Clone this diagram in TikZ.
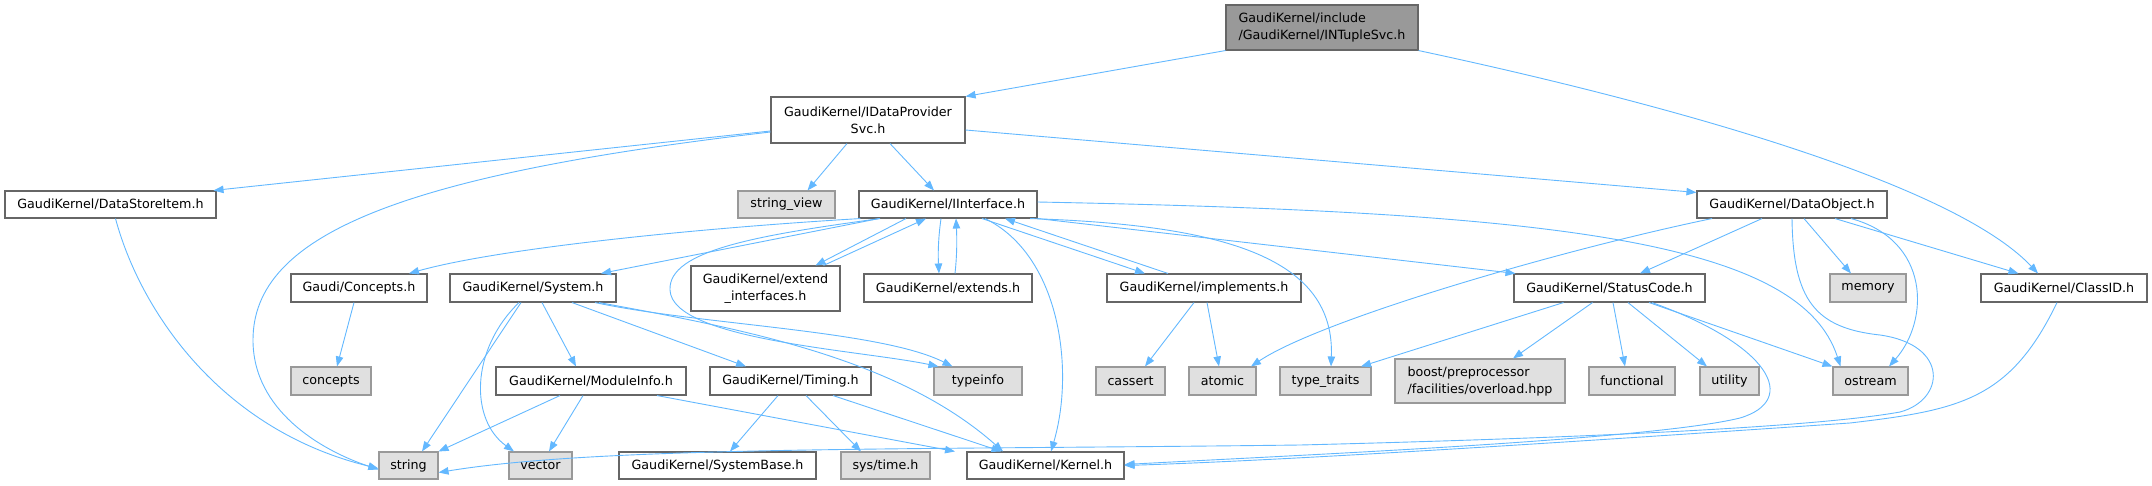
\documentclass[tikz,border=0pt]{standalone}
\usepackage{fontspec}
\setmainfont{DejaVu Sans}
\usetikzlibrary{arrows.meta}
\definecolor{edgec}{HTML}{63B8FF}
\definecolor{nodeborder}{HTML}{666666}
\definecolor{extborder}{HTML}{999999}
\definecolor{extfill}{HTML}{E0E0E0}
\definecolor{rootfill}{HTML}{999999}
\begin{document}
\begin{tikzpicture}[x=1pt,y=-1pt,
  font=\fontsize{12.7}{17}\selectfont,
  box/.style={draw=nodeborder, fill=white, line width=1.1pt, inner sep=0pt, minimum height=27pt},
  extbox/.style={box, draw=extborder, fill=extfill},
  rootbox/.style={box, fill=rootfill},
  dep/.style={draw=edgec, line width=0.9pt, -{Triangle[length=10pt,width=7.5pt]}}]
\useasboundingbox (0,0) rectangle (2152,485);

% ---- nodes
\node[rootbox, minimum width=192pt, minimum height=45pt, align=left] (root) at (1322,27.5) {GaudiKernel/include\\/GaudiKernel/INTupleSvc.h};
\node[box, minimum width=194pt, minimum height=46pt, align=center] (idp) at (868,120) {GaudiKernel/IDataProvider\\Svc.h};
\node[box, minimum width=211pt] (dsi) at (110.5,204.5) {GaudiKernel/DataStoreItem.h};
\node[extbox, minimum width=97pt] (sv) at (786.5,204.5) {string\_view};
\node[box, minimum width=178pt] (ii) at (948,204.5) {GaudiKernel/IInterface.h};
\node[box, minimum width=190pt] (dobj) at (1792,204.5) {GaudiKernel/DataObject.h};

\node[box, minimum width=136pt, minimum height=28pt] (conc) at (359,288) {Gaudi/Concepts.h};
\node[box, minimum width=166pt, minimum height=28pt] (sys) at (533,288) {GaudiKernel/System.h};
\node[box, minimum width=149pt, minimum height=45pt, align=center] (extif) at (765.5,288.5) {GaudiKernel/extend\\\_interfaces.h};
\node[box, minimum width=168pt, minimum height=28pt] (ext) at (948,288) {GaudiKernel/extends.h};
\node[box, minimum width=194pt, minimum height=28pt] (impl) at (1204,288) {GaudiKernel/implements.h};
\node[box, minimum width=191pt, minimum height=28pt] (sc) at (1609.5,288) {GaudiKernel/StatusCode.h};
\node[extbox, minimum width=76pt, minimum height=28pt] (mem) at (1868,288) {memory};
\node[box, minimum width=166pt, minimum height=28pt] (cid) at (2064,288) {GaudiKernel/ClassID.h};

\node[extbox, minimum width=80pt, minimum height=28pt] (concepts) at (331,381) {concepts};
\node[box, minimum width=190pt, minimum height=28pt] (modinfo) at (591,381) {GaudiKernel/ModuleInfo.h};
\node[box, minimum width=161pt, minimum height=28pt] (timing) at (790.5,381) {GaudiKernel/Timing.h};
\node[extbox, minimum width=88pt, minimum height=28pt] (typeinfo) at (978,381) {typeinfo};
\node[extbox, minimum width=69pt, minimum height=28pt] (cassert) at (1130.5,381) {cassert};
\node[extbox, minimum width=67pt, minimum height=28pt] (atomic) at (1222.5,381) {atomic};
\node[extbox, minimum width=91pt, minimum height=28pt] (tt) at (1325.5,381) {type\_traits};
\node[extbox, minimum width=170pt, minimum height=44pt, align=left] (boost) at (1480,381) {boost/preprocessor\\/facilities/overload.hpp};
\node[extbox, minimum width=86pt, minimum height=28pt] (functional) at (1632,381) {functional};
\node[extbox, minimum width=59pt, minimum height=28pt] (utility) at (1729.5,381) {utility};
\node[extbox, minimum width=75pt, minimum height=28pt] (ostream) at (1870.5,381) {ostream};

\node[extbox, minimum width=59pt] (string) at (408.5,465.5) {string};
\node[extbox, minimum width=63pt] (vector) at (540.5,465.5) {vector};
\node[box, minimum width=197pt] (sysbase) at (717.5,465.5) {GaudiKernel/SystemBase.h};
\node[extbox, minimum width=89pt] (systime) at (885.5,465.5) {sys/time.h};
\node[box, minimum width=157pt] (kernel) at (1045.5,465.5) {GaudiKernel/Kernel.h};

% ---- connectors
\draw[dep] (root.south west) -- (idp.north east);
\draw[dep] (root.south east) .. controls (1650,100) and (1950,180) .. ([xshift=-26pt]cid.north);

\draw[dep] ([yshift=-11pt]idp.west) -- ([xshift=-3pt]dsi.north east);
\draw[dep] ([yshift=-12pt]idp.west) .. controls (400,175) and (253,235) .. (253,340)
   .. controls (253,410) and (320,450) .. ([yshift=-4pt]string.west);
\draw[dep] ([xshift=5pt]dsi.south) .. controls (140,310) and (220,430) .. ([yshift=-3pt]string.west);
\draw[dep] ([xshift=-21pt]idp.south) -- ([xshift=21pt]sv.north);
\draw[dep] ([xshift=22pt]idp.south) -- ([xshift=-14pt]ii.north);
\draw[dep] ([yshift=-10pt]idp.east) -- ([yshift=-2pt]dobj.north west);

% IInterface
\draw[dep] ([xshift=2pt]ii.south west) .. controls (700,228) and (500,248) .. ([xshift=50pt]conc.north);
\draw[dep] ([xshift=-69pt]ii.south) -- ([xshift=68pt]sys.north);
\draw[dep] ([xshift=-42pt]ii.south) -- ([xshift=50pt]extif.north);
\draw[dep] ([xshift=58pt]extif.north) -- ([xshift=-22pt]ii.south);
\draw[dep] ([xshift=-7pt]ii.south) .. controls (938,240) and (938,255) .. ([xshift=-9pt]ext.north);
\draw[dep] ([xshift=7pt]ext.north) .. controls (957,255) and (957,240) .. ([xshift=8pt]ii.south);
\draw[dep] ([xshift=34pt]ii.south) -- ([xshift=-59pt]impl.north);
\draw[dep] ([xshift=-36pt]impl.north) -- ([xshift=57pt]ii.south);
\draw[dep] ([xshift=37pt]ii.south) .. controls (1060,255) and (1075,370) .. ([xshift=5.5pt]kernel.north);
\draw[dep] ([xshift=-68pt]ii.south) .. controls (760,235) and (668,250) .. (670,290)
   .. controls (672,340) and (860,350) .. ([xshift=5pt]typeinfo.north west);
\draw[dep] ([xshift=82pt]ii.south) .. controls (1230,225) and (1335,260) .. ([xshift=5.5pt]tt.north);
\draw[dep] (ii.south east) -- ([xshift=2pt]sc.north west);
\draw[dep] ([yshift=2.5pt]ii.east) .. controls (1550,212) and (1800,240) .. ([xshift=8pt]ostream.north west);

% System
\draw[dep] ([xshift=62pt]sys.south) .. controls (700,325) and (880,330) .. ([xshift=19pt]typeinfo.north west);
\draw[dep] ([xshift=66pt]sys.south) .. controls (750,330) and (900,360) .. ([xshift=-42.5pt]kernel.north);
\draw[dep] ([xshift=39pt]sys.south) -- ([xshift=-44.5pt]timing.north);
\draw[dep] ([xshift=9pt]sys.south) -- ([xshift=-15pt]modinfo.north);
\draw[dep] ([xshift=-12pt]sys.south) -- ([xshift=13.5pt]string.north);
\draw[dep] ([xshift=-14pt]sys.south) .. controls (470,350) and (470,420) .. ([xshift=-26.5pt]vector.north);

\draw[dep] ([xshift=-5pt]conc.south) -- ([xshift=6pt]concepts.north);

% ModuleInfo
\draw[dep] ([xshift=-31pt]modinfo.south) -- (string.north east);
\draw[dep] ([xshift=-8pt]modinfo.south) -- ([xshift=8.5pt]vector.north);
\draw[dep] ([xshift=66pt]modinfo.south) -- ([xshift=-90.5pt]kernel.north);

% Timing
\draw[dep] ([xshift=-12.5pt]timing.south) -- ([xshift=12.5pt]sysbase.north);
\draw[dep] ([xshift=15.5pt]timing.south) -- ([xshift=-24.5pt]systime.north);
\draw[dep] ([xshift=42.5pt]timing.south) -- ([xshift=-44pt]kernel.north);

% implements
\draw[dep] ([xshift=-10pt]impl.south) -- ([xshift=14.5pt]cassert.north);
\draw[dep] ([xshift=3pt]impl.south) -- ([xshift=-3.5pt]atomic.north);

% DataObject
\draw[dep] ([xshift=-80pt]dobj.south) .. controls (1560,250) and (1320,320) .. ([xshift=28.5pt]atomic.north);
\draw[dep] ([xshift=-30pt]dobj.south) -- ([xshift=30.5pt]sc.north);
\draw[dep] ([xshift=12pt]dobj.south) -- ([xshift=-17pt]mem.north);
\draw[dep] ([xshift=43pt]dobj.south) -- ([xshift=38pt]cid.north west);
\draw[dep] ([xshift=59pt]dobj.south) .. controls (1930,240) and (1930,320) .. ([xshift=18.5pt]ostream.north);
\draw[dep] (dobj.south) .. controls (1793,300) and (1815,328) .. (1880,335)
   .. controls (1950,345) and (1945,400) .. (1900,412)
   .. controls (1800,430) and (1500,440) .. (1300,445)
   .. controls (900,450) and (600,446) .. ([yshift=-7pt]string.east);

% StatusCode
\draw[dep] ([xshift=-46pt]sc.south) -- ([xshift=35.5pt]tt.north);
\draw[dep] ([xshift=-17pt]sc.south) -- ([xshift=33pt]boost.north);
\draw[dep] ([xshift=3.5pt]sc.south) -- ([xshift=-7pt]functional.north);
\draw[dep] ([xshift=18.5pt]sc.south) -- ([xshift=-22.5pt]utility.north);
\draw[dep] ([xshift=39.5pt]sc.south) -- (ostream.north west);
\draw[dep] ([xshift=42.5pt]sc.south) .. controls (1770,345) and (1800,400) .. (1740,418)
   .. controls (1650,440) and (1300,455) .. ([yshift=1pt]kernel.east);

% ClassID
\draw[dep] ([xshift=-7pt]cid.south) .. controls (2010,400) and (1960,410) .. (1850,423)
   .. controls (1600,440) and (1300,460) .. (kernel.east);
\end{tikzpicture}
\end{document}
